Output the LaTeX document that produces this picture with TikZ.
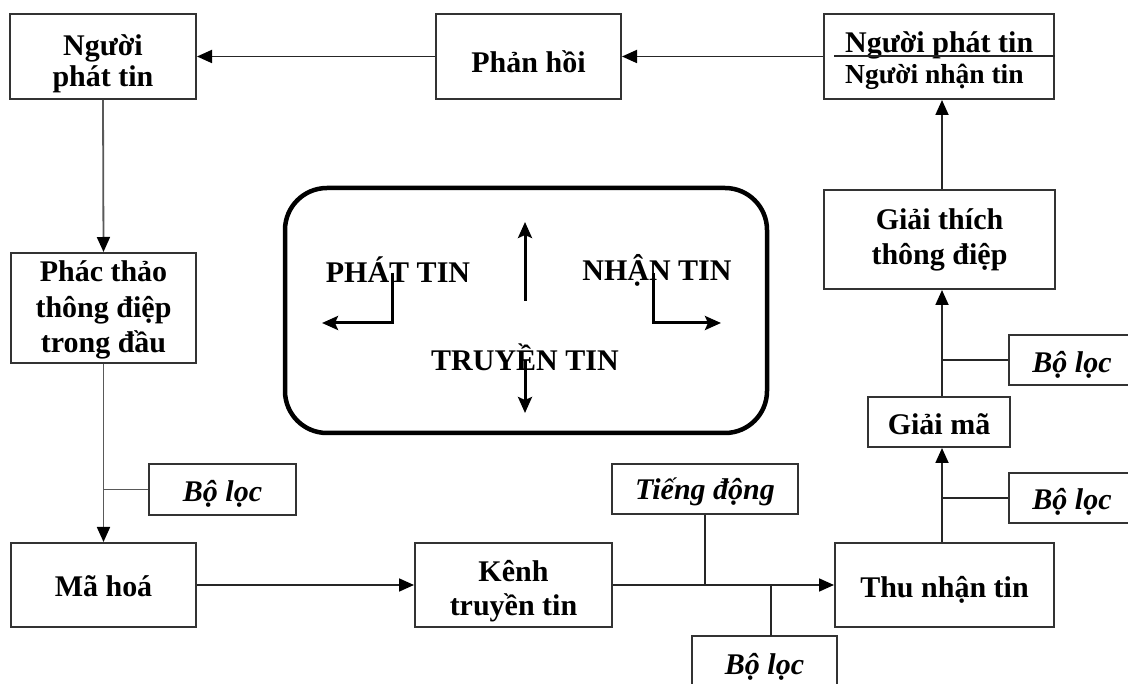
\documentclass[tikz,border=0pt]{standalone}
\usepackage{fontspec}
\setmainfont{Liberation Serif}
\usetikzlibrary{arrows.meta}
\begin{document}
\begin{tikzpicture}[x=1pt,y=-1pt,
  box/.style={draw=black!80,line width=2pt,inner sep=0pt},
  txt/.style={inner sep=0pt,align=center,font=\fontsize{30}{34}\selectfont\bfseries},
  itxt/.style={txt,font=\fontsize{30}{34}\selectfont\bfseries\itshape},
  conn/.style={line width=1.8pt,draw=black!85},
  arr/.style={conn,-{Triangle[length=15pt,width=13pt,color=black]}},
  inarr/.style={line width=3pt,-{Stealth[length=16pt,width=14pt,inset=3pt]}},
  intext/.style={font=\fontsize{30}{34}\selectfont\bfseries,inner sep=0pt}]
\useasboundingbox (0,0) rectangle (1128,684);
\fill[white] (0,0) rectangle (1128,684);

% boxes
\node[box,minimum width=186pt,minimum height=85pt,
  label={[txt,yshift=-7pt,font=\fontsize{30}{31}\selectfont\bfseries]center:{Người\\phát tin}}] (npt) at (103,56.5) {};
\node[box,minimum width=185pt,minimum height=85pt,
  label={[txt,yshift=-5pt]center:Phản hồi}] (ph) at (528.5,56.5) {};
\node[box,minimum width=230pt,minimum height=85pt] (nnt) at (939,56.5) {};
\node[txt,anchor=base west] (nnt1) at (845,53) {Người phát tin};
\node[txt,anchor=base west,font=\fontsize{27.5}{30}\selectfont\bfseries] (nnt2) at (845,84) {Người nhận tin};
\coordinate (divL) at (834,56);
\draw[line width=1.6pt,draw=black!85] (divL) -- (divL -| nnt.east);

\node[box,minimum width=231pt,minimum height=99pt,
  label={[txt,font=\fontsize{30}{35}\selectfont\bfseries]center:{Giải thích\\thông điệp}}] (gt) at (939.5,239.5) {};
\node[box,minimum width=142pt,minimum height=50pt,
  label={[txt,yshift=-2pt]center:Giải mã}] (gm) at (939,422) {};
\node[box,minimum width=126pt,minimum height=50pt,
  label={[itxt,yshift=-5pt]center:Bộ lọc}] (bl2) at (1072,360) {};
\node[box,minimum width=126pt,minimum height=50pt,
  label={[itxt,yshift=-4pt]center:Bộ lọc}] (bl3) at (1072,498) {};
\node[box,minimum width=219pt,minimum height=84pt,
  label={[txt,yshift=-5pt]center:Thu nhận tin}] (tn) at (944.5,585) {};
\node[box,minimum width=186pt,minimum height=50pt,
  label={[itxt,yshift=-3pt]center:Tiếng động}] (td) at (705,489) {};
\node[box,minimum width=145pt,minimum height=56pt,
  label={[itxt,yshift=-3pt]center:Bộ lọc}] (bl4) at (764.5,664) {};
\node[box,minimum width=147pt,minimum height=51pt,
  label={[itxt,yshift=-4pt]center:Bộ lọc}] (bl1) at (222.5,489.5) {};
\node[box,minimum width=185pt,minimum height=110pt,
  label={[txt,yshift=-2pt,font=\fontsize{30}{35.5}\selectfont\bfseries]center:{Phác thảo\\thông điệp\\trong đầu}}] (ptd) at (103.5,308) {};
\node[box,minimum width=185pt,minimum height=84pt,
  label={[txt,yshift=-1pt]center:Mã hoá}] (mh) at (103.5,585) {};
\node[box,minimum width=197pt,minimum height=84pt,
  label={[txt,yshift=-6pt]center:{Kênh\\truyền tin}}] (kt) at (513.5,585) {};

% connectors
\coordinate (vx) at (942,0);
\draw[arr] (nnt.west) -- (ph.east);
\draw[arr] (ph.west) -- (npt.east);
\draw[arr] (gt.north -| vx) -- (nnt.south -| vx);
\draw[arr] (gm.north -| vx) -- (gt.south -| vx);
\draw[arr] (tn.north -| vx) -- (gm.south -| vx);
\draw[conn] (bl2.west) -- (bl2.west -| vx);
\draw[conn] (bl3.west) -- (bl3.west -| vx);
\draw[arr] (kt.east) -- (tn.west);
\draw[conn] (td.south) -- (td.south |- kt.east);
\coordinate (b4) at (771,636);
\draw[conn] (b4) -- (b4 |- kt.east);
\draw[arr,draw=black!65] (npt.south) -- (ptd.north);
\draw[arr,draw=black!65] (ptd.south) -- (mh.north);
\draw[conn,draw=black!65] (bl1.west) -- (bl1.west -| ptd.south);
\draw[arr] (mh.east) -- (kt.west);

% central rounded box
\draw[line width=4.5pt,rounded corners=42pt] (285,188) rectangle (767,433);
\node[intext] (pt) at (398,270) {PHÁT TIN};
\node[intext] (nt) at (657,270) {NHẬN TIN};
\node[intext] (tt) at (525,357) {TRUYỀN TIN};
\coordinate (upA) at (525,301);
\coordinate (upB) at (525,222);
\draw[inarr] (upA) -- (upB);
\coordinate (dnA) at (525,360);
\coordinate (dnB) at (525,413);
\draw[inarr] (dnA) -- (dnB);
\coordinate (lA) at (392,273);
\coordinate (lB) at (322,323);
\draw[inarr] (lA) |- (lB);
\coordinate (rA) at (653,273);
\coordinate (rB) at (721,323);
\draw[inarr] (rA) |- (rB);
\end{tikzpicture}
\end{document}
